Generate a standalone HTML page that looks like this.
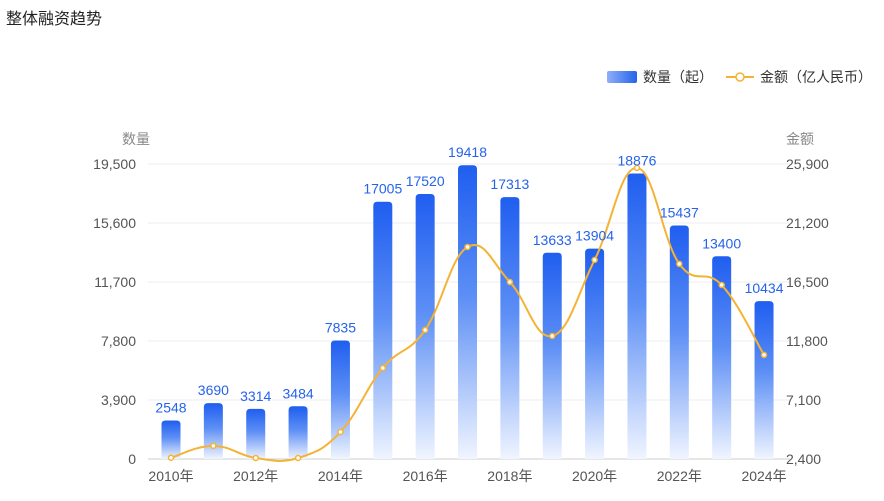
<!DOCTYPE html>
<html><head><meta charset="utf-8"><style>
body{margin:0;background:#fff;font-family:"Liberation Sans","Noto Sans CJK SC",sans-serif;}
svg text{font-family:"Liberation Sans","Noto Sans CJK SC",sans-serif;}
</style></head><body>
<svg id="c" width="884" height="496">
<defs>
<linearGradient id="bg" x1="0" y1="0" x2="0" y2="1"><stop offset="0" stop-color="#1f5ef0"/><stop offset="0.45" stop-color="#5d8ff5"/><stop offset="1" stop-color="#f0f5ff"/></linearGradient>
<linearGradient id="lg" x1="0" y1="0" x2="1" y2="0"><stop offset="0" stop-color="#8fb0f8"/><stop offset="1" stop-color="#2563eb"/></linearGradient>
</defs>
<text x="6" y="24" font-size="16" fill="#222">整体融资趋势</text>
<g>
<rect x="607" y="71" width="30" height="12" rx="2" fill="url(#lg)"/>
<text x="643" y="82" font-size="14" fill="#333">数量（起）</text>
<line x1="726" y1="77" x2="754" y2="77" stroke="#f5b335" stroke-width="2"/>
<circle cx="740" cy="77" r="4" fill="#fff" stroke="#f5b335" stroke-width="1.5"/>
<text x="760" y="82" font-size="14" fill="#333">金额（亿人民币）</text>
</g>
<text x="136" y="144" font-size="14" fill="#888" text-anchor="middle">数量</text>
<text x="800" y="144" font-size="14" fill="#888" text-anchor="middle">金额</text>
<g id="grid"></g><g id="bars"></g><g id="line"></g><g id="labels"></g>
</svg>
<script>
const years=['2010年','2011年','2012年','2013年','2014年','2015年','2016年','2017年','2018年','2019年','2020年','2021年','2022年','2023年','2024年'];
const counts=[2548,3690,3314,3484,7835,17005,17520,19418,17313,13633,13904,18876,15437,13400,10434];
const amounts=[2500,3450,2480,2480,4550,9650,12680,19290,16500,12200,18260,25590,17940,16260,10690];
const leftTicks=[0,3900,7800,11700,15600,19500];
const rightTicks=[2400,7100,11800,16500,21200,25900];
const NS='http://www.w3.org/2000/svg';
const y0=459,y1=164,xs=171,step=42.36,bw=19,rr=4;
const yL=v=>y0-(v/19500)*(y0-y1);
const yR=v=>y0-((v-2400)/23500)*(y0-y1);
const xC=i=>xs+i*step;
function mk(t,a,p){const e=document.createElementNS(NS,t);for(const k in a)e.setAttribute(k,a[k]);(p||document.getElementById('c')).appendChild(e);return e;}
const grid=document.getElementById('grid');
leftTicks.forEach((v,i)=>{
 const l=mk('line',{x1:148,x2:790,y1:yL(v),y2:yL(v),stroke:i==0?'#ccc':'#eceef2','stroke-width':1},grid);
 
 
 const t=mk('text',{x:136,y:yL(v)+5,'font-size':14,fill:'#555','text-anchor':'end'},grid);t.textContent=v.toLocaleString('en-US');
 
 
});
rightTicks.forEach(v=>{
 const t=mk('text',{x:786,y:yR(v)+5,'font-size':14,fill:'#555'},grid);t.textContent=v.toLocaleString('en-US');
 
 
});
years.forEach((y,i)=>{if(i%2==0){const t=mk('text',{x:xC(i),y:481,'font-size':14,fill:'#555','text-anchor':'middle'},grid);t.textContent=y;
 
 }});
const bars=document.getElementById('bars'),labels=document.getElementById('labels');
counts.forEach((v,i)=>{
 const x=xC(i)-bw/2,y=yL(v);
 const d='M'+x+','+y0+' L'+x+','+(y+rr)+' Q'+x+','+y+' '+(x+rr)+','+y+' L'+(x+bw-rr)+','+y+' Q'+(x+bw)+','+y+' '+(x+bw)+','+(y+rr)+' L'+(x+bw)+','+y0+' Z';
 const r=mk('path',{d:d,fill:'url(#bg)'},bars);
 
 
 const t=mk('text',{x:xC(i),y:y-8,'font-size':14,fill:'#2563eb','text-anchor':'middle'},labels);t.textContent=v;
 
 
});
const pts=amounts.map((v,i)=>[xC(i),yR(v)]);
let d='M'+pts[0][0]+','+pts[0][1];
for(let i=0;i<pts.length-1;i++){
 const p0=pts[Math.max(0,i-1)],p1=pts[i],p2=pts[i+1],p3=pts[Math.min(pts.length-1,i+2)];
 const t=0.2;
 d+=' C'+(p1[0]+(p2[0]-p0[0])*t)+','+(p1[1]+(p2[1]-p0[1])*t)+' '+(p2[0]-(p3[0]-p1[0])*t)+','+(p2[1]-(p3[1]-p1[1])*t)+' '+p2[0]+','+p2[1];
}
const lg=document.getElementById('line');
const path=mk('path',{d:d,fill:'none',stroke:'#f5b335','stroke-width':2},lg);


pts.forEach(p=>{const c=mk('circle',{cx:p[0],cy:p[1],r:2.5,fill:'#fff',stroke:'#f5b335','stroke-width':1.5},lg);
 
 });
</script>
</body></html>
